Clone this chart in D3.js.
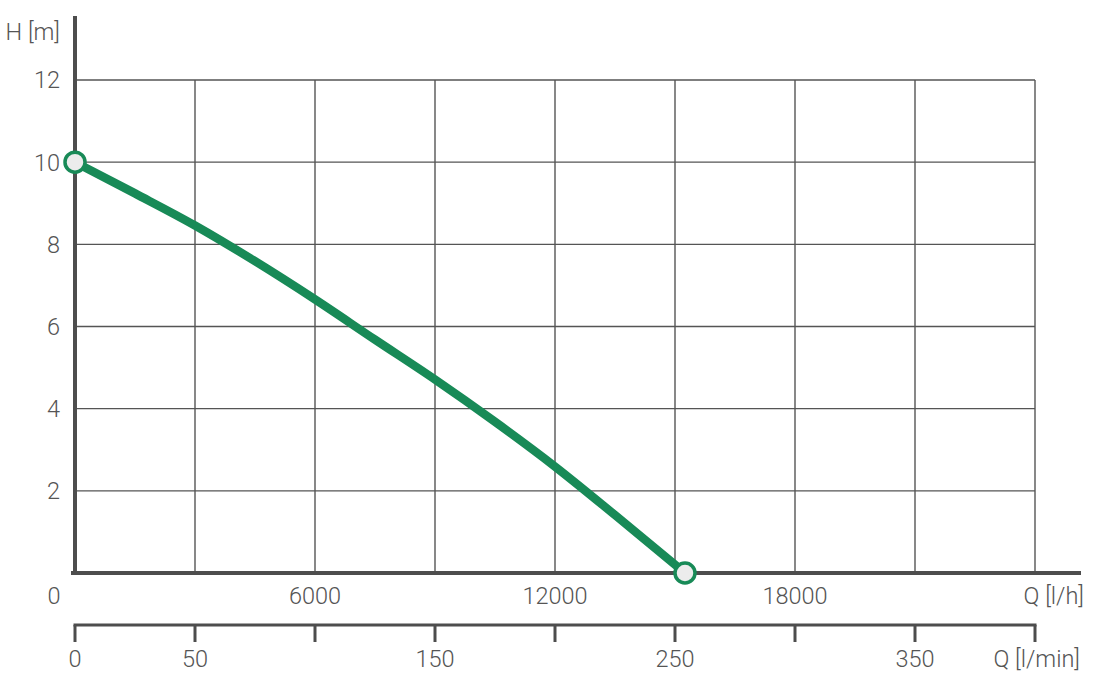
<!DOCTYPE html>
<html><head><meta charset="utf-8">
<script src="https://cdn.jsdelivr.net/npm/d3@7"></script>
<style>
html,body{margin:0;padding:0;background:#fff;}
text{font-family:Roboto,"Open Sans",sans-serif;font-weight:300;fill:#555;}
</style></head>
<body><svg id="c" width="1118" height="675"></svg>
<script>
// Data
const flowLh = [0, 1500, 3000, 4500, 6000, 7500, 9000, 10500, 12000, 13500, 15250];
const headM  = [10, 9.24, 8.46, 7.59, 6.66, 5.68, 4.71, 3.68, 2.59, 1.41, 0];
const hTicks = [2, 4, 6, 8, 10, 12];
const lhGrid = [3000, 6000, 9000, 12000, 15000, 18000, 21000, 24000];
const lhLabels = [6000, 12000, 18000];
const lminTicks = [0, 50, 100, 150, 200, 250, 300, 350, 400];
const lminLabels = [0, 50, 150, 250, 350];

const svg = d3.select("#c");
const x = d3.scaleLinear().domain([0, 24000]).range([75, 1035]);
const xm = d3.scaleLinear().domain([0, 400]).range([75, 1035]);
const y = d3.scaleLinear().domain([0, 12]).range([573, 80]);
const ax = "#4d4d4d";
const fs = 23.5;

// grid
svg.append("g").selectAll("line").data(hTicks).join("line")
  .attr("x1", x(0)).attr("x2", x(24000))
  .attr("y1", d => y(d)).attr("y2", d => y(d))
  .attr("stroke", "#555").attr("stroke-width", 1.4);
svg.append("g").selectAll("line").data(lhGrid).join("line")
  .attr("x1", d => x(d)).attr("x2", d => x(d))
  .attr("y1", y(12)).attr("y2", y(0))
  .attr("stroke", "#555").attr("stroke-width", 1.4);

// main axes
svg.append("line").attr("x1", x(0)).attr("x2", x(0)).attr("y1", 16).attr("y2", y(0) + 2)
  .attr("stroke", ax).attr("stroke-width", 4);
svg.append("line").attr("x1", 71).attr("x2", 1081).attr("y1", y(0)).attr("y2", y(0))
  .attr("stroke", ax).attr("stroke-width", 4);

// y labels
svg.append("g").selectAll("text").data(hTicks).join("text")
  .attr("x", 60).attr("y", d => y(d)).attr("dy", "0.36em")
  .attr("text-anchor", "end").attr("font-size", fs).text(d => d);
svg.append("text").attr("x", 60).attr("y", 32).attr("dy", "0.36em")
  .attr("text-anchor", "end").attr("font-size", fs).text("H [m]");

// l/h labels
svg.append("text").attr("x", 54).attr("y", 596).attr("dy", "0.36em")
  .attr("text-anchor", "middle").attr("font-size", fs).text("0");
svg.append("g").selectAll("text").data(lhLabels).join("text")
  .attr("x", d => x(d)).attr("y", 596).attr("dy", "0.36em")
  .attr("text-anchor", "middle").attr("font-size", fs).text(d => d);
svg.append("text").attr("x", 1084).attr("y", 596).attr("dy", "0.36em")
  .attr("text-anchor", "end").attr("font-size", fs).text("Q [l/h]");

// l/min axis
svg.append("line").attr("x1", xm(0) - 1.5).attr("x2", xm(400) + 1.5).attr("y1", 625).attr("y2", 625)
  .attr("stroke", ax).attr("stroke-width", 3);
svg.append("g").selectAll("line").data(lminTicks).join("line")
  .attr("x1", d => xm(d)).attr("x2", d => xm(d)).attr("y1", 625).attr("y2", 642)
  .attr("stroke", ax).attr("stroke-width", 3);
svg.append("g").selectAll("text").data(lminLabels).join("text")
  .attr("x", d => xm(d)).attr("y", 659).attr("dy", "0.36em")
  .attr("text-anchor", "middle").attr("font-size", fs).text(d => d);
svg.append("text").attr("x", 1080).attr("y", 659).attr("dy", "0.36em")
  .attr("text-anchor", "end").attr("font-size", fs).text("Q [l/min]");

// curve
const pts = flowLh.map((q, i) => [q, headM[i]]);
const line = d3.line().x(d => x(d[0])).y(d => y(d[1])).curve(d3.curveMonotoneX);
svg.append("path").attr("d", line(pts)).attr("fill", "none")
  .attr("stroke", "#188a57").attr("stroke-width", 8.5).attr("stroke-linecap", "round");
svg.append("g").selectAll("circle").data([pts[0], pts[pts.length - 1]]).join("circle")
  .attr("cx", d => x(d[0])).attr("cy", d => y(d[1])).attr("r", 10)
  .attr("fill", "#ececec").attr("stroke", "#188a57").attr("stroke-width", 3.5);
</script></body></html>
